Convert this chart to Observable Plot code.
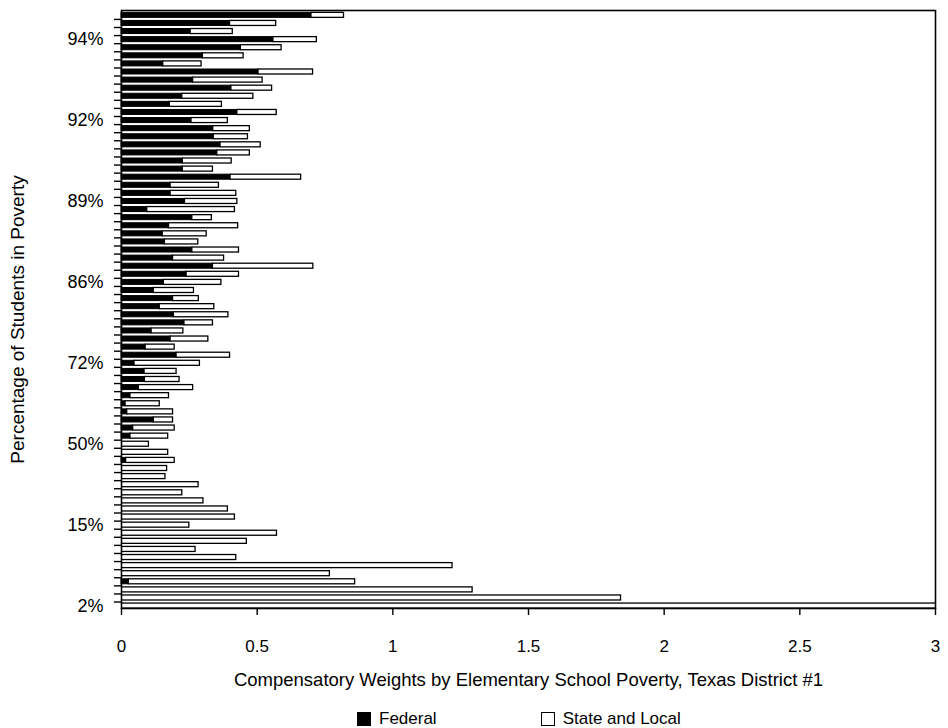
<!DOCTYPE html>
<html>
<head>
<meta charset="utf-8">
<script src="https://cdn.jsdelivr.net/npm/d3@7"></script>
<script src="https://cdn.jsdelivr.net/npm/@observablehq/plot@0.6"></script>
<style>
  html, body { margin: 0; padding: 0; background: #fff; }
  body { width: 948px; height: 728px; position: relative; font-family: "Liberation Sans", Arial, sans-serif; }
  #chart { position: absolute; left: 0; top: 0; }
  #legend { position: absolute; left: 357px; top: 709px; display: flex; align-items: center; font-size: 17px; color: #000; }
  .item { display: flex; align-items: center; }
  .sw { width: 14px; height: 14px; border: 1.5px solid #000; box-sizing: border-box; margin-right: 8px; }
</style>
</head>
<body>
<div id="chart"></div>
<div id="legend">
  <div class="item"><div class="sw" style="background:#000"></div><span>Federal</span></div>
  <div class="item" style="margin-left:104px"><div class="sw" style="background:#fff"></div><span>State and Local</span></div>
</div>
<script>
// One bar per elementary school, from top (highest poverty) to bottom (lowest poverty)
const federal = [
  0.70, 0.40, 0.255, 0.56, 0.44, 0.30, 0.154, 0.505, 0.264, 0.405,
  0.224, 0.178, 0.427, 0.258, 0.338, 0.34, 0.365, 0.353, 0.226, 0.226,
  0.402, 0.181, 0.181, 0.234, 0.095, 0.261, 0.175, 0.152, 0.16, 0.261,
  0.19, 0.337, 0.24, 0.156, 0.119, 0.19, 0.141, 0.193, 0.232, 0.111,
  0.181, 0.089, 0.203, 0.048, 0.085, 0.086, 0.064, 0.033, 0.015, 0.021,
  0.119, 0.043, 0.033, 0, 0, 0.017, 0, 0, 0, 0,
  0, 0, 0, 0, 0, 0, 0, 0, 0, 0,
  0.027, 0, 0, 0
];
const stateLocal = [
  0.12, 0.17, 0.155, 0.16, 0.15, 0.15, 0.141, 0.201, 0.256, 0.15,
  0.262, 0.192, 0.145, 0.134, 0.135, 0.126, 0.148, 0.12, 0.18, 0.111,
  0.26, 0.178, 0.242, 0.193, 0.323, 0.072, 0.255, 0.162, 0.123, 0.172,
  0.188, 0.37, 0.193, 0.212, 0.148, 0.095, 0.201, 0.201, 0.105, 0.117,
  0.139, 0.107, 0.197, 0.241, 0.118, 0.128, 0.20, 0.142, 0.126, 0.169,
  0.071, 0.153, 0.139, 0.101, 0.172, 0.179, 0.168, 0.162, 0.284, 0.224,
  0.302, 0.392, 0.418, 0.25, 0.573, 0.462, 0.273, 0.423, 1.22, 0.768,
  0.834, 1.294, 1.841, 3.3
];
// Rows (school index from the top) that carry a poverty label
const yTickRows = [3, 13, 23, 33, 43, 53, 63, 73];
const yTickLabels = ["94%", "92%", "89%", "86%", "72%", "50%", "15%", "2%"];
const xTicks = [0, 0.5, 1, 1.5, 2, 2.5, 3];
const xTickLabels = ["0", "0.5", "1", "1.5", "2", "2.5", "3"];
const xTitle = "Compensatory Weights by Elementary School Poverty, Texas District #1";
const yTitle = "Percentage of Students in Poverty";

const rows = federal.map((f, i) => ({i, f, s: stateLocal[i], t: f + stateLocal[i]}));
const half = 0.31;
const boundaries = d3.range(federal.length - 1).map(i => i + 0.5);

const chart = Plot.plot({
  width: 948,
  height: 705,
  marginLeft: 121,
  marginRight: 13,
  marginTop: 10,
  marginBottom: 97,
  style: {fontFamily: "Liberation Sans, Arial, sans-serif", color: "#000", background: "#fff"},
  x: {domain: [0, 3], label: null},
  y: {domain: [-0.6, federal.length - 0.7], reverse: true, label: null},
  marks: [
    Plot.rectX(rows.filter(d => d.f > 0), {
      y1: d => d.i - half, y2: d => d.i + half, x1: 0, x2: "f",
      fill: "#000", stroke: "#000", strokeWidth: 1
    }),
    Plot.rectX(rows, {
      y1: d => d.i - half, y2: d => d.i + half, x1: "f", x2: "t",
      fill: "#fff", stroke: "#000", strokeWidth: 1.3, clip: true
    }),
    Plot.frame({stroke: "#000", strokeWidth: 1.6}),
    Plot.axisY(yTickRows, {
      tickSize: 0, tickPadding: 18, fontSize: 18,
      tickFormat: d => yTickLabels[yTickRows.indexOf(d)], label: null
    }),
    Plot.axisY(boundaries, {tickSize: 7, tickFormat: () => "", strokeWidth: 1.4, label: null}),
    Plot.axisX(xTicks, {
      tickSize: 7, tickPadding: 24, fontSize: 17, strokeWidth: 1.4,
      tickFormat: d => xTickLabels[xTicks.indexOf(d)], label: null
    }),
    Plot.text([xTitle], {frameAnchor: "bottom", dy: 77, fontSize: 18.5, fill: "#000"}),
    Plot.text([yTitle], {frameAnchor: "left", textAnchor: "middle", dx: -104, dy: 10, rotate: -90, fontSize: 19, fill: "#000"})
  ]
});
document.getElementById("chart").appendChild(chart);
</script>
</body>
</html>
